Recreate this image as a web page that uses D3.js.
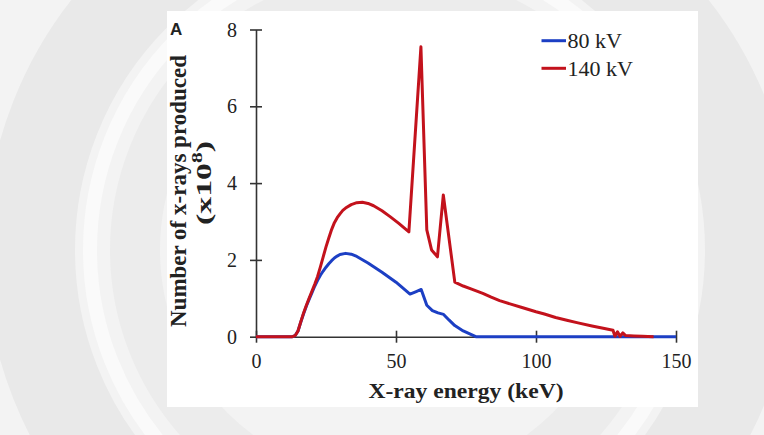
<!DOCTYPE html>
<html>
<head>
<meta charset="utf-8">
<script src="https://cdn.jsdelivr.net/npm/d3@7"></script>
<style>
  html, body { margin: 0; padding: 0; background: #f3f3f3; }
  svg { display: block; }
</style>
</head>
<body>
<svg id="chart" width="764" height="435"></svg>
<script>
// X-ray spectra: photon counts (x10^8) against photon energy (keV)
const energy80 = [0, 13, 14, 15, 16, 17, 18, 19, 20, 21, 22, 23, 24, 25, 26, 27, 28, 29, 30, 32, 34, 36, 40, 45, 50, 55, 57, 59, 61, 63, 65, 67, 69, 71, 74, 78.5, 150];
const counts80 = [0, 0, 0.03, 0.15, 0.38, 0.6, 0.8, 0.98, 1.15, 1.32, 1.47, 1.6, 1.71, 1.81, 1.9, 1.98, 2.05, 2.1, 2.14, 2.17, 2.15, 2.09, 1.92, 1.68, 1.42, 1.11, 1.17, 1.23, 0.82, 0.68, 0.62, 0.58, 0.43, 0.29, 0.15, 0, 0];

const energy140 = [0, 13, 14, 15, 16, 17, 18, 19, 20, 21, 22, 23, 24, 25, 26, 27, 28, 29, 30, 31, 32, 34, 36, 38, 40, 42, 45, 48, 51, 54.6, 58.9, 61, 62.7, 64.8, 66.9, 71, 74, 77, 81, 84, 87, 91, 95, 100, 103, 107, 111, 115, 120, 124, 127.5, 128.2, 129.1, 130, 131, 132, 135, 138, 142];
const counts140 = [0, 0, 0.03, 0.15, 0.39, 0.62, 0.82, 1.01, 1.19, 1.37, 1.57, 1.82, 2.08, 2.34, 2.57, 2.79, 2.97, 3.1, 3.2, 3.29, 3.35, 3.44, 3.49, 3.5, 3.47, 3.41, 3.28, 3.12, 2.95, 2.73, 7.55, 2.78, 2.26, 2.08, 3.69, 1.42, 1.32, 1.24, 1.13, 1.03, 0.94, 0.85, 0.76, 0.65, 0.59, 0.5, 0.43, 0.36, 0.28, 0.22, 0.17, 0.01, 0.13, 0.01, 0.1, 0.03, 0.02, 0.01, 0];

const xTicks = [0, 50, 100, 150];
const yTicks = [0, 2, 4, 6, 8];
const seriesNames = ["80 kV", "140 kV"];
const seriesColors = ["#1c3fc4", "#c3121c"];

const svg = d3.select("#chart");
const serif = "'Liberation Serif', 'Times New Roman', serif";

// faint seal ring in the background
const wm = svg.append("g").attr("fill", "none");
wm.append("circle").attr("cx", 390).attr("cy", 250).attr("r", 360)
  .attr("stroke", "#e9e9e9").attr("stroke-width", 90);
wm.append("circle").attr("cx", 390).attr("cy", 250).attr("r", 300)
  .attr("stroke", "#fafafa").attr("stroke-width", 14);
wm.append("circle").attr("cx", 390).attr("cy", 250).attr("r", 255)
  .attr("stroke", "#ececec").attr("stroke-width", 50);

// white figure panel
svg.append("rect").attr("x", 167).attr("y", 11).attr("width", 531).attr("height", 396).attr("fill", "#ffffff");

const x = d3.scaleLinear().domain([0, 150]).range([256, 676]);
const y = d3.scaleLinear().domain([0, 8]).range([336.7, 29.5]);

// x axis with ticks crossing the line
const gx = svg.append("g").attr("transform", `translate(0,${y(0)})`)
  .call(d3.axisBottom(x).tickValues(xTicks).tickSizeOuter(0).tickFormat(d3.format("d")));
gx.select(".domain").attr("stroke", "#333").attr("stroke-width", 1.6);
gx.selectAll(".tick line").attr("y1", -6).attr("y2", 6).attr("stroke", "#333").attr("stroke-width", 1.6);
gx.selectAll(".tick text").attr("y", 31).attr("dy", 0)
  .attr("font-family", serif).attr("font-size", 20).attr("fill", "#222");

// y axis
const gy = svg.append("g").attr("transform", `translate(${x(0)},0)`)
  .call(d3.axisLeft(y).tickValues(yTicks).tickSizeOuter(0).tickFormat(d3.format("d")));
gy.select(".domain").attr("stroke", "#333").attr("stroke-width", 1.6);
gy.selectAll(".tick line").attr("x1", -6).attr("x2", 6).attr("stroke", "#333").attr("stroke-width", 1.6);
gy.selectAll(".tick text").attr("x", -19).attr("dy", "0.33em")
  .attr("font-family", serif).attr("font-size", 20).attr("fill", "#222");

// spectra
const line = d3.line().x(d => x(d[0])).y(d => y(d[1]));
const series = [
  d3.zip(energy80, counts80),
  d3.zip(energy140, counts140)
];
series.forEach((s, i) => {
  svg.append("path").datum(s).attr("d", line)
    .attr("fill", "none").attr("stroke", seriesColors[i]).attr("stroke-width", 3)
    .attr("stroke-linejoin", "round");
});

// legend
const legendY = [40.7, 68.3];
seriesNames.forEach((name, i) => {
  svg.append("line").attr("x1", 541.5).attr("x2", 566).attr("y1", legendY[i]).attr("y2", legendY[i])
    .attr("stroke", seriesColors[i]).attr("stroke-width", 3);
  svg.append("text").attr("x", 567.5).attr("y", legendY[i] + 7.6)
    .attr("font-family", serif).attr("font-size", 22).attr("fill", "#222").text(name);
});

// axis titles
svg.append("text").attr("x", 466).attr("y", 398).attr("text-anchor", "middle")
  .attr("font-family", serif).attr("font-weight", "bold").attr("font-size", 21).attr("fill", "#222")
  .attr("textLength", 195).attr("lengthAdjust", "spacingAndGlyphs")
  .text("X-ray energy (keV)");

svg.append("text").attr("transform", "translate(186,191) rotate(-90)").attr("text-anchor", "middle")
  .attr("font-family", serif).attr("font-weight", "bold").attr("font-size", 23).attr("fill", "#222")
  .attr("textLength", 272).attr("lengthAdjust", "spacingAndGlyphs")
  .text("Number of x-rays produced");

const t2 = svg.append("text").attr("transform", "translate(211,183) rotate(-90)").attr("text-anchor", "middle")
  .attr("font-family", serif).attr("font-weight", "bold").attr("font-size", 22).attr("fill", "#222")
  .attr("textLength", 84).attr("lengthAdjust", "spacingAndGlyphs");
t2.append("tspan").text("(x10");
t2.append("tspan").attr("font-size", 14).attr("dy", -9).text("8");
t2.append("tspan").attr("dy", 9).text(")");

// panel letter
svg.append("text").attr("x", 170).attr("y", 35)
  .attr("font-family", "'Liberation Sans', Arial, sans-serif").attr("font-weight", "bold").attr("font-size", 17).attr("fill", "#222")
  .text("A");
</script>
</body>
</html>
